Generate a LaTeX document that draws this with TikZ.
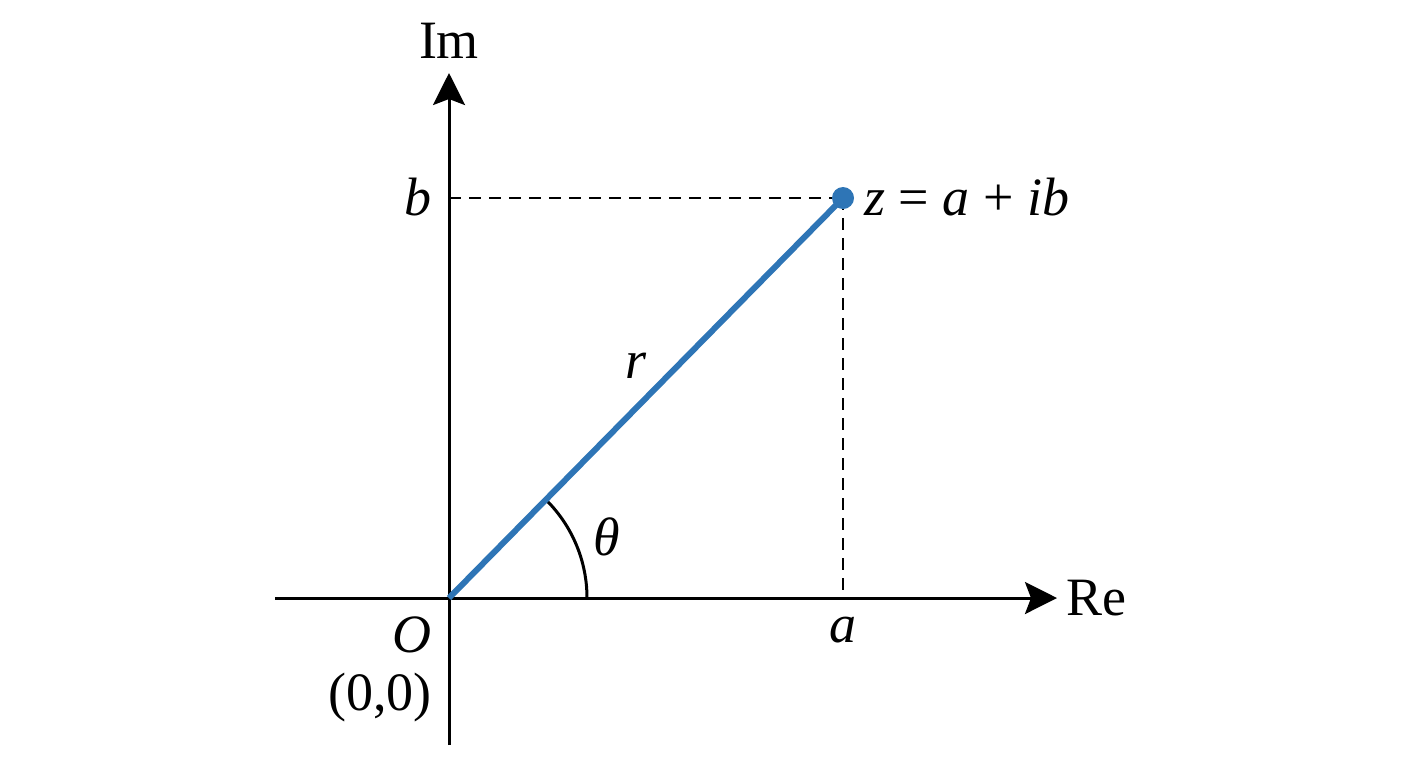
\documentclass[tikz,border=0pt]{standalone}
\usepackage{fontspec}
\setmainfont{Liberation Serif}
\usetikzlibrary{arrows.meta}
\definecolor{vecblue}{HTML}{2E75B6}
\begin{document}
\begin{tikzpicture}[x=0.5pt,y=-0.5pt,
  axis/.style={line width=1.5pt,-{Stealth[length=16pt,width=16pt,inset=3pt]}},
  guide/.style={line width=1.3pt,dash pattern=on 6pt off 4pt},
  lbl/.style={font=\fontsize{27}{32}\selectfont,inner sep=0pt},
  vec/.style={line width=3pt,vecblue}]
\useasboundingbox (0,0) rectangle (1408,768);
\coordinate (O) at (449,598);
\coordinate (imlow) at (449,745);
\coordinate (imtop) at (449,73);
\coordinate (relow) at (275,598);
\coordinate (retop) at (1057,598);
\coordinate (Z) at (843,198);
\coordinate (B) at (449,198);
\coordinate (A) at (843,598);
\coordinate (arc0) at (587,598);
% axes
\draw[axis] (relow) -- (retop);
\draw[axis] (imlow) -- (imtop);
% guides
\draw[guide] (B) -- (Z);
\draw[guide] (Z) -- (A);
% angle arc
\draw[line width=1.5pt] (arc0) arc[start angle=0,end angle=45,radius=69pt];
% vector
\draw[vec] (O) -- (Z);
\fill[vecblue] (Z) circle (5.5pt);
% labels
\node[lbl,anchor=base] (im) at (449,58) {Im};
\node[lbl,anchor=base west] (re) at (1066,615) {Re};
\node[lbl,anchor=base west] (zl) at (864,215) {\textit{z} = \textit{a} + \textit{ib}};
\node[lbl,anchor=base east] (bl) at (432,215) {\textit{b}};
\node[lbl,anchor=base] (al) at (843,642) {\textit{a}};
\node[lbl,anchor=base] (rl) at (636,378) {\textit{r}};
\node[lbl,anchor=base] (tl) at (607,555) {\textit{θ}};
\node[lbl,anchor=base east] (ol) at (432,652) {\textit{O}};
\node[lbl,anchor=base east] (zero) at (432,710) {(0,0)};
\end{tikzpicture}
\end{document}
